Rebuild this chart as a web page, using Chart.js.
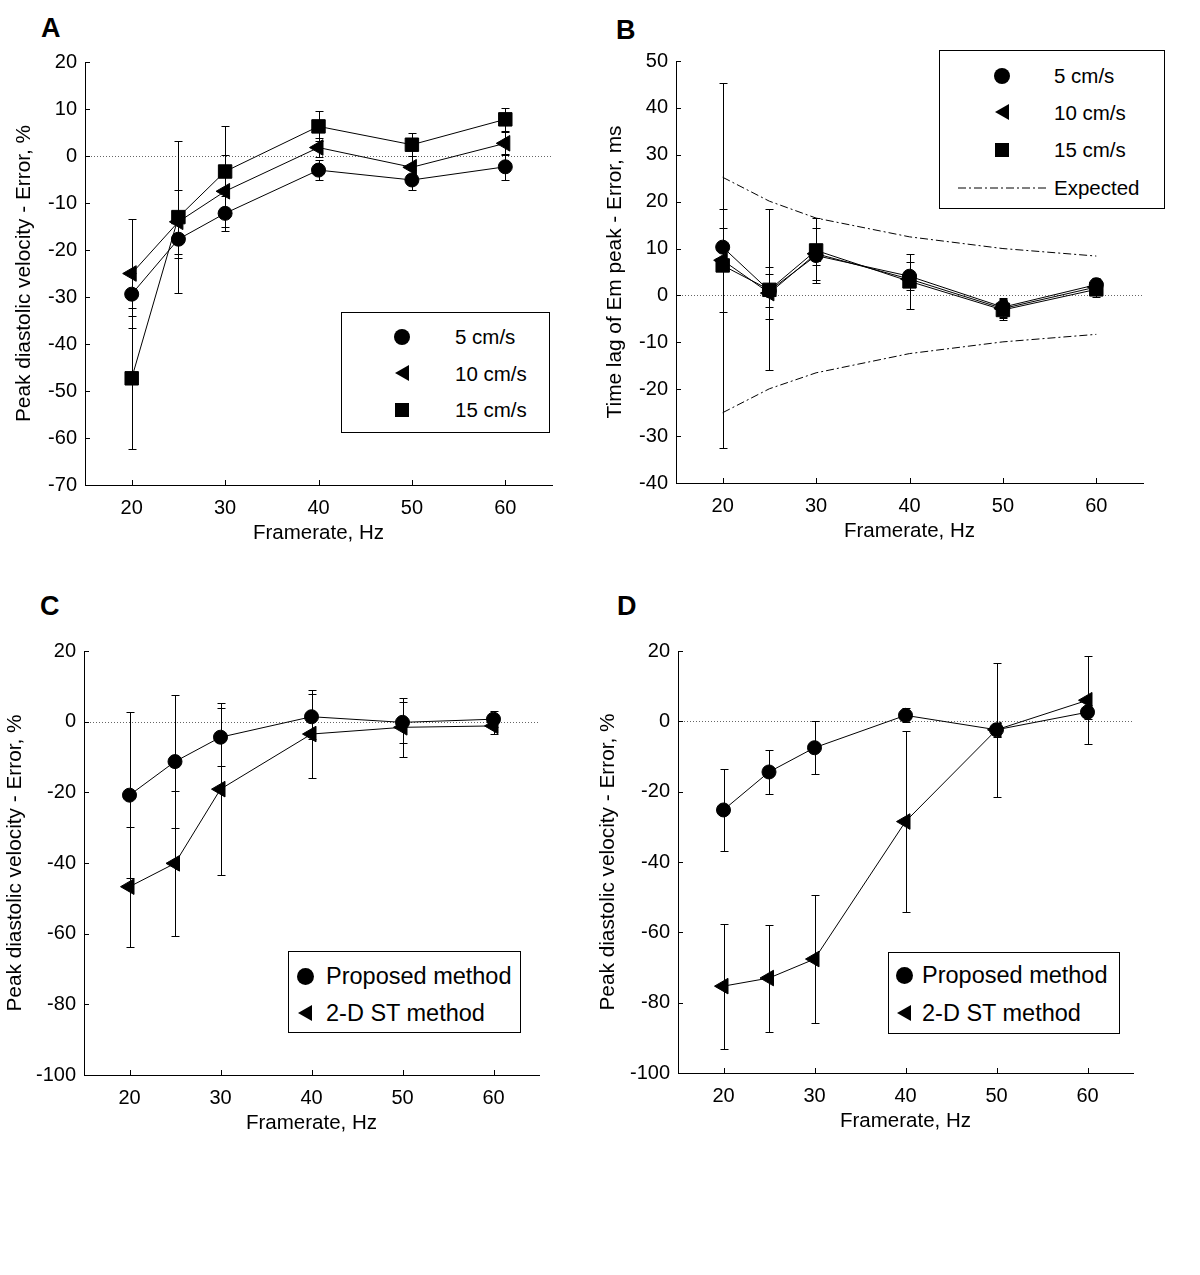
<!DOCTYPE html>
<html lang="en">
<head>
<meta charset="UTF-8">
<title>Framerate error</title>
<script src="https://cdn.jsdelivr.net/npm/chart.js"></script>
<style>
  body { margin: 0; background: #fff; font-family: "Liberation Sans", Arial, sans-serif; }
  .wrap { position: relative; width: 1200px; height: 1275px; }
  .panel { position: absolute; }
  .letter { position: absolute; font-weight: bold; font-size: 27px; line-height: 27px; }
  .legend { position: absolute; border: 1px solid #000; background: #fff; box-sizing: border-box; }
  .legend span { position: absolute; white-space: nowrap; color: #000; line-height: 1; }
  .mk { position: absolute; background: #000; }
  .circ { border-radius: 50%; }
  .tri { background: none; width: 0; height: 0; border-top: 8.5px solid transparent; border-bottom: 8.5px solid transparent; border-right: 14px solid #000; }
</style>
</head>
<body>
<div class="wrap">
  <div class="letter" style="left:41px;top:15px">A</div>
  <div class="letter" style="left:616px;top:17px">B</div>
  <div class="letter" style="left:40px;top:593px">C</div>
  <div class="letter" style="left:617px;top:593px">D</div>

  <div class="panel" style="left:0;top:0;width:590px;height:580px"><canvas id="chartA"></canvas></div>
  <div class="panel" style="left:590px;top:0;width:600px;height:580px"><canvas id="chartB"></canvas></div>
  <div class="panel" style="left:0;top:590px;width:590px;height:580px"><canvas id="chartC"></canvas></div>
  <div class="panel" style="left:590px;top:590px;width:600px;height:580px"><canvas id="chartD"></canvas></div>

  <!-- legenda A -->
  <div class="legend" style="left:341px;top:312px;width:209px;height:121px;font-size:20.5px">
    <div class="mk circ" style="left:52px;top:16px;width:16px;height:16px"></div>
    <span style="left:113px;top:14px">5 cm/s</span>
    <div class="mk tri" style="left:53px;top:52px"></div>
    <span style="left:113px;top:51px">10 cm/s</span>
    <div class="mk" style="left:53px;top:90px;width:14px;height:14px"></div>
    <span style="left:113px;top:87px">15 cm/s</span>
  </div>

  <!-- legenda B -->
  <div class="legend" style="left:939px;top:50px;width:226px;height:159px;font-size:20.5px">
    <div class="mk circ" style="left:54px;top:17px;width:16px;height:16px"></div>
    <span style="left:114px;top:15px">5 cm/s</span>
    <div class="mk tri" style="left:55px;top:53px"></div>
    <span style="left:114px;top:52px">10 cm/s</span>
    <div class="mk" style="left:55px;top:92px;width:14px;height:14px"></div>
    <span style="left:114px;top:89px">15 cm/s</span>
    <svg style="position:absolute;left:18px;top:130px" width="88" height="14">
      <line x1="0" y1="7" x2="88" y2="7" stroke="#000" stroke-width="1" stroke-dasharray="8,3,2,3"/>
    </svg>
    <span style="left:114px;top:127px">Expected</span>
  </div>

  <!-- legenda C -->
  <div class="legend" style="left:288px;top:951px;width:233px;height:82px;font-size:23.5px">
    <div class="mk circ" style="left:8px;top:16px;width:17px;height:17px"></div>
    <span style="left:37px;top:13px">Proposed method</span>
    <div class="mk tri" style="left:9px;top:53px"></div>
    <span style="left:37px;top:50px">2-D ST method</span>
  </div>

  <!-- legenda D -->
  <div class="legend" style="left:888px;top:952px;width:232px;height:82px;font-size:23.5px">
    <div class="mk circ" style="left:7px;top:14px;width:17px;height:17px"></div>
    <span style="left:33px;top:11px">Proposed method</span>
    <div class="mk tri" style="left:8px;top:52px"></div>
    <span style="left:33px;top:49px">2-D ST method</span>
  </div>
</div>

<script>
// dados
var frameRates = [20, 25, 30, 40, 50, 60];
var xTicks = [20, 30, 40, 50, 60];
var yTicksA = [-70, -60, -50, -40, -30, -20, -10, 0, 10, 20];
var yTicksB = [-40, -30, -20, -10, 0, 10, 20, 30, 40, 50];
var yTicksCD = [-100, -80, -60, -40, -20, 0, 20];

// A - velocidade de pico
var a5 = [-29.4, -17.7, -12.2, -3.0, -5.1, -2.3];
var a5Err = [4.6, 4.1, 3.7, 2.1, 2.1, 2.8];
var a10 = [-25.0, -14.0, -7.5, 1.8, -2.4, 2.7];
var a10Err = [11.5, 6.8, 7.7, 2.1, 2.5, 2.5];
var a15 = [-47.3, -13.0, -3.3, 6.3, 2.4, 7.8];
var a15Err = [15.0, 16.1, 9.6, 3.2, 2.5, 2.5];

// B - atraso do pico Em
var b5 = [10.3, 1.0, 8.5, 4.1, -2.5, 2.3];
var b5Err = [4.1, 3.5, 2.0, 3.0, 2.0, 1.5];
var b10 = [7.5, 0.5, 8.9, 3.5, -2.8, 1.8];
var b10Err = [11.0, 5.5, 5.5, 1.5, 2.0, 1.5];
var b15 = [6.4, 1.2, 9.6, 3.0, -3.1, 1.3];
var b15Err = [39.0, 17.2, 7.0, 5.8, 2.1, 1.6];
var bExpUpper = [25.2, 20.1, 16.5, 12.5, 10.0, 8.4];
var bExpLower = [-25.0, -19.9, -16.5, -12.4, -9.9, -8.3];

// C
var cProp = [-20.8, -11.3, -4.4, 1.4, -0.2, 0.7];
var cPropErr = [23.4, 18.8, 8.2, 6.3, 5.8, 2.3];
var cSt = [-46.7, -40.1, -19.1, -3.5, -1.6, -1.2];
var cStErr = [17.0, 20.5, 24.3, 12.5, 8.3, 2.4];

// D
var dProp = [-25.2, -14.4, -7.5, 1.7, -2.4, 2.6];
var dPropErr = [11.7, 6.2, 7.5, 2.0, 2.0, 2.0];
var dSt = [-75.3, -73.0, -67.6, -28.5, -2.4, 6.0];
var dStErr = [17.8, 15.2, 18.2, 25.8, 19.0, 12.5];

Chart.defaults.font.family = '"Liberation Sans", Arial, sans-serif';
Chart.defaults.font.size = 20;
Chart.defaults.color = '#000';

function pts(vals) {
  return vals.map(function (v, i) { return { x: frameRates[i], y: v }; });
}

function serie(vals, errs, style) {
  var ds = {
    data: pts(vals),
    errors: errs,
    borderColor: '#000',
    borderWidth: 1,
    backgroundColor: '#000',
    pointBackgroundColor: '#000',
    pointBorderColor: '#000',
    pointBorderWidth: 1,
    pointStyle: style,
    pointRadius: 7,
    tension: 0
  };
  if (style === 'triangle') { ds.pointRotation = -90; ds.pointRadius = 9; }
  if (style === 'rect') { ds.pointRadius = 9.5; }
  return ds;
}

function expected(vals) {
  return {
    data: pts(vals),
    borderColor: '#000',
    borderWidth: 1,
    borderDash: [8, 3, 2, 3],
    pointRadius: 0,
    tension: 0
  };
}

// barras de erro + linha do zero + ticks para dentro
var errorBars = {
  id: 'errorBars',
  beforeDatasetsDraw: function (chart) {
    var ctx = chart.ctx, x = chart.scales.x, y = chart.scales.y;
    ctx.save();
    // linha pontilhada no zero
    var y0 = Math.round(y.getPixelForValue(0)) + 0.5;
    ctx.strokeStyle = '#666';
    ctx.lineWidth = 1;
    ctx.setLineDash([1, 2]);
    ctx.beginPath();
    ctx.moveTo(x.left, y0);
    ctx.lineTo(x.right, y0);
    ctx.stroke();
    ctx.setLineDash([]);
    ctx.strokeStyle = '#000';
    chart.data.datasets.forEach(function (ds) {
      if (!ds.errors) return;
      ds.data.forEach(function (p, i) {
        var e = ds.errors[i];
        var px = Math.round(x.getPixelForValue(p.x)) + 0.5;
        var top = Math.round(y.getPixelForValue(p.y + e)) + 0.5;
        var bot = Math.round(y.getPixelForValue(p.y - e)) + 0.5;
        ctx.beginPath();
        ctx.moveTo(px, top); ctx.lineTo(px, bot);
        ctx.moveTo(px - 4, top); ctx.lineTo(px + 4, top);
        ctx.moveTo(px - 4, bot); ctx.lineTo(px + 4, bot);
        ctx.stroke();
      });
    });
    ctx.restore();
  },
  afterDraw: function (chart) {
    var ctx = chart.ctx, x = chart.scales.x, y = chart.scales.y;
    ctx.save();
    ctx.strokeStyle = '#000';
    ctx.lineWidth = 1;
    ctx.beginPath();
    x.ticks.forEach(function (t) {
      var px = Math.round(x.getPixelForValue(t.value)) + 0.5;
      ctx.moveTo(px, y.bottom); ctx.lineTo(px, y.bottom - 5);
    });
    y.ticks.forEach(function (t) {
      var py = Math.round(y.getPixelForValue(t.value)) + 0.5;
      ctx.moveTo(x.left, py); ctx.lineTo(x.left + 5, py);
    });
    ctx.stroke();
    ctx.restore();
  }
};

function makeChart(id, datasets, opt) {
  new Chart(document.getElementById(id), {
    type: 'line',
    data: { datasets: datasets },
    options: {
      responsive: true,
      maintainAspectRatio: false,
      animation: false,
      layout: { padding: { left: 0, top: opt.top, right: opt.right, bottom: opt.bottom } },
      plugins: { legend: { display: false }, tooltip: { enabled: false } },
      scales: {
        x: {
          type: 'linear',
          min: 15, max: 65,
          afterBuildTicks: function (s) { s.ticks = xTicks.map(function (v) { return { value: v }; }); },
          afterFit: function (s) { s.height = 95; },
          grid: { drawOnChartArea: false, drawTicks: false },
          border: { color: '#000', width: 1 },
          ticks: { padding: 11, color: '#000' },
          title: { display: true, text: 'Framerate, Hz', color: '#000', font: { size: 20.5 },
                   padding: { top: 0, bottom: 34.5 } }
        },
        y: {
          type: 'linear',
          min: opt.yTicks[0], max: opt.yTicks[opt.yTicks.length - 1],
          afterBuildTicks: function (s) { s.ticks = opt.yTicks.map(function (v) { return { value: v }; }); },
          afterFit: function (s) { s.width = opt.yWidth; },
          grid: { drawOnChartArea: false, drawTicks: false },
          border: { color: '#000', width: 1 },
          ticks: { padding: 8, color: '#000' },
          title: { display: true, text: opt.yTitle, color: '#000', font: { size: 20.8 },
                   padding: { top: opt.titlePad, bottom: 0 } }
        }
      }
    },
    plugins: [errorBars]
  });
}

makeChart('chartA', [
  serie(a5, a5Err, 'circle'),
  serie(a10, a10Err, 'triangle'),
  serie(a15, a15Err, 'rect')
], { top: 62, right: 38, bottom: 0, yWidth: 85, yTicks: yTicksA, titlePad: 11.5,
     yTitle: 'Peak diastolic velocity - Error, %' });

makeChart('chartB', [
  serie(b5, b5Err, 'circle'),
  serie(b10, b10Err, 'triangle'),
  serie(b15, b15Err, 'rect'),
  expected(bExpUpper),
  expected(bExpLower)
], { top: 61, right: 47, bottom: 2, yWidth: 86, yTicks: yTicksB, titlePad: 12.5,
     yTitle: 'Time lag of Em peak - Error, ms' });

makeChart('chartC', [
  serie(cProp, cPropErr, 'circle'),
  serie(cSt, cStErr, 'triangle')
], { top: 61, right: 51, bottom: 0, yWidth: 84, yTicks: yTicksCD, titlePad: 3,
     yTitle: 'Peak diastolic velocity - Error, %' });

makeChart('chartD', [
  serie(dProp, dPropErr, 'circle'),
  serie(dSt, dStErr, 'triangle')
], { top: 61, right: 57, bottom: 2, yWidth: 88, yTicks: yTicksCD, titlePad: 5.5,
     yTitle: 'Peak diastolic velocity - Error, %' });
</script>
</body>
</html>
